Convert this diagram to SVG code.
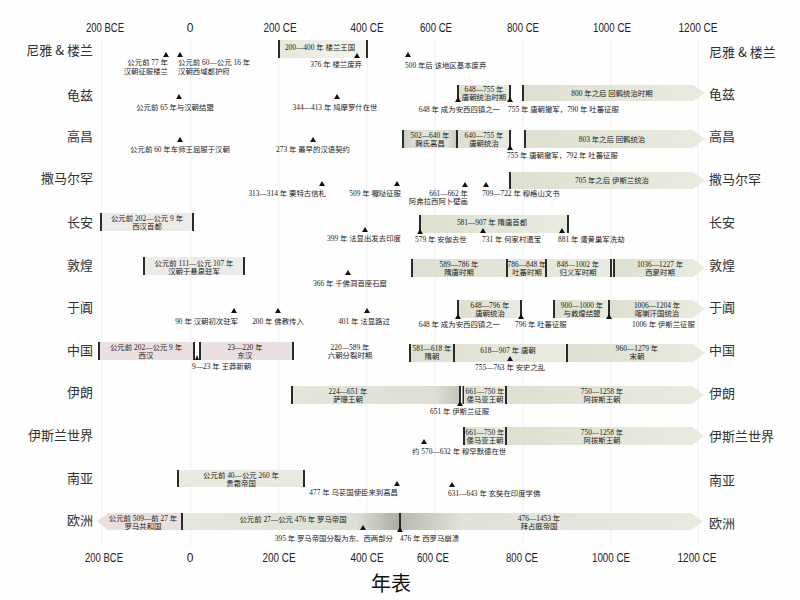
<svg xmlns="http://www.w3.org/2000/svg" width="800" height="600" viewBox="0 0 800 600">
<defs>
<linearGradient id="g" x1="0" x2="1" y1="0" y2="0"><stop offset="0" stop-color="#dde0d0"/><stop offset="1" stop-color="#e9ebdf"/></linearGradient>
<linearGradient id="gl" x1="0" x2="1"><stop offset="0" stop-color="#e6e8dc"/><stop offset="1" stop-color="#f4f5ee"/></linearGradient>
<linearGradient id="gd" x1="0" x2="1"><stop offset="0" stop-color="#c9cbc1"/><stop offset="0.25" stop-color="#e0e2d6"/><stop offset="0.8" stop-color="#e3e5d9"/><stop offset="1" stop-color="#c6c8be"/></linearGradient>
<linearGradient id="gr" x1="0" x2="1"><stop offset="0" stop-color="#e6e8dc"/><stop offset="0.8" stop-color="#dcdfd1"/><stop offset="1" stop-color="#a9ada2"/></linearGradient>
<linearGradient id="gb" x1="0" x2="1"><stop offset="0" stop-color="#b6b9af"/><stop offset="0.2" stop-color="#dfe2d4"/><stop offset="1" stop-color="#e8eadd"/></linearGradient>
<linearGradient id="gi" x1="0" x2="1"><stop offset="0" stop-color="#e4e6da"/><stop offset="0.85" stop-color="#dcdfd1"/><stop offset="1" stop-color="#c3c6bb"/></linearGradient>
<path id="tri" d="M0,-5 L3,0 L-3,0 Z" fill="#111"/>
<style>
.ax{font-family:"Liberation Sans",Arial,sans-serif;font-size:12px;fill:#222;text-anchor:middle}
.row{font-family:"Noto Sans CJK SC",sans-serif;font-size:13px;fill:#333}
.l{text-anchor:end}
.t{font-family:"Liberation Serif","Noto Sans CJK SC",serif;font-size:7.4px;fill:#222}
.m{text-anchor:middle}
.e{text-anchor:end}
.bar{fill:url(#g)}
.pk{fill:#eadfe0}
.nu{fill:#ecebe8}
.edge{stroke:#2a2a2a;stroke-width:2}
.grid{stroke:#efefef;stroke-width:1}
</style>
</defs>
<rect width="800" height="600" fill="#fefefe"/>
<g id="grid" class="grid">
<line x1="102" y1="38" x2="102" y2="543"/><line x1="191" y1="38" x2="191" y2="543"/><line x1="279" y1="38" x2="279" y2="543"/><line x1="367" y1="38" x2="367" y2="543"/><line x1="435" y1="38" x2="435" y2="543"/><line x1="523" y1="38" x2="523" y2="543"/><line x1="611" y1="38" x2="611" y2="543"/><line x1="698" y1="38" x2="698" y2="543"/>
</g>
<g id="axis-top">
<text class="ax" x="105" y="32" textLength="38" lengthAdjust="spacingAndGlyphs">200 BCE</text>
<text class="ax" x="190" y="32">0</text>
<text class="ax" x="280" y="32" textLength="33" lengthAdjust="spacingAndGlyphs">200 CE</text>
<text class="ax" x="367" y="32" textLength="33" lengthAdjust="spacingAndGlyphs">400 CE</text>
<text class="ax" x="436" y="32" textLength="32" lengthAdjust="spacingAndGlyphs">600 CE</text>
<text class="ax" x="523" y="32" textLength="32" lengthAdjust="spacingAndGlyphs">800 CE</text>
<text class="ax" x="612" y="32" textLength="38" lengthAdjust="spacingAndGlyphs">1000 CE</text>
<text class="ax" x="698" y="32" textLength="39" lengthAdjust="spacingAndGlyphs">1200 CE</text>
</g>
<g id="axis-bottom">
<text class="ax" x="104" y="562" textLength="38" lengthAdjust="spacingAndGlyphs">200 BCE</text>
<text class="ax" x="190" y="562">0</text>
<text class="ax" x="279" y="562" textLength="33" lengthAdjust="spacingAndGlyphs">200 CE</text>
<text class="ax" x="367" y="562" textLength="33" lengthAdjust="spacingAndGlyphs">400 CE</text>
<text class="ax" x="433" y="562" textLength="32" lengthAdjust="spacingAndGlyphs">600 CE</text>
<text class="ax" x="522" y="562" textLength="32" lengthAdjust="spacingAndGlyphs">800 CE</text>
<text class="ax" x="611" y="562" textLength="38" lengthAdjust="spacingAndGlyphs">1000 CE</text>
<text class="ax" x="697" y="562" textLength="39" lengthAdjust="spacingAndGlyphs">1200 CE</text>
</g>
<g id="labels-left" class="row l">
<text class="row l" x="93" y="55">尼雅 &amp; 楼兰</text>
<text class="row l" x="93" y="100">龟兹</text>
<text class="row l" x="93" y="141">高昌</text>
<text class="row l" x="93" y="183">撒马尔罕</text>
<text class="row l" x="93" y="227">长安</text>
<text class="row l" x="93" y="270">敦煌</text>
<text class="row l" x="93" y="312">于阗</text>
<text class="row l" x="93" y="355">中国</text>
<text class="row l" x="93" y="397">伊朗</text>
<text class="row l" x="93" y="440">伊斯兰世界</text>
<text class="row l" x="93" y="483">南亚</text>
<text class="row l" x="93" y="525">欧洲</text>
</g>
<g id="labels-right">
<text class="row" x="709" y="57">尼雅 &amp; 楼兰</text>
<text class="row" x="709" y="99">龟兹</text>
<text class="row" x="709" y="141">高昌</text>
<text class="row" x="709" y="184">撒马尔罕</text>
<text class="row" x="709" y="227">长安</text>
<text class="row" x="709" y="270">敦煌</text>
<text class="row" x="709" y="312">于阗</text>
<text class="row" x="709" y="355">中国</text>
<text class="row" x="709" y="398">伊朗</text>
<text class="row" x="709" y="441">伊斯兰世界</text>
<text class="row" x="709" y="485">南亚</text>
<text class="row" x="709" y="528">欧洲</text>
</g>

<g id="niya">
<rect x="279" y="40" width="88" height="18" fill="url(#gl)"/>
<line class="edge" x1="279" y1="40" x2="279" y2="58"/><line class="edge" x1="367" y1="40" x2="367" y2="58"/>
<text class="t m" x="320" y="50">200—400 年 楼兰王国</text>
<use href="#tri" x="357" y="58"/>
<text class="t e" x="362" y="67">376 年 楼兰废弃</text>
<use href="#tri" x="166" y="57"/><use href="#tri" x="180" y="57"/>
<text class="t e" x="168" y="64.5">公元前 77 年</text>
<text class="t e" x="168" y="73.5">汉朝征服楼兰</text>
<text class="t" x="178" y="64.5">公元前 60—公元 16 年</text>
<text class="t" x="178" y="73.5">汉朝西域都护府</text>
<use href="#tri" x="408" y="57"/>
<text class="t" x="405" y="68">500 年后 该地区基本废弃</text>
</g>

<g id="qiuci">
<use href="#tri" x="179" y="99"/>
<text class="t m" x="175" y="109.5">公元前 65 年与汉朝结盟</text>
<use href="#tri" x="337" y="99"/>
<text class="t m" x="335" y="109.5">344—413 年 鸠摩罗什在世</text>
<rect class="bar" x="458" y="85" width="52" height="16"/>
<line class="edge" x1="458" y1="85" x2="458" y2="101"/><line class="edge" x1="510" y1="85" x2="510" y2="101"/>
<use href="#tri" x="458" y="102"/><use href="#tri" x="510" y="102"/>
<text class="t m" x="484" y="92">648—755 年</text>
<text class="t m" x="484" y="100">唐朝统治时期</text>
<text class="t e" x="500" y="112">648 年 成为安西四镇之一</text>
<text class="t" x="508" y="112">755 年 唐朝撤军，790 年 吐蕃征服</text>
<polygon class="bar" points="523,85 693,85 705,93 693,101 523,101"/>
<line class="edge" x1="523" y1="85" x2="523" y2="101"/>
<text class="t m" x="612" y="96">800 年之后 回鹘统治时期</text>
</g>

<g id="gaochang">
<use href="#tri" x="180" y="142"/>
<text class="t m" x="180" y="151.5">公元前 60 年车师王屈服于汉朝</text>
<use href="#tri" x="313" y="142"/>
<text class="t m" x="313" y="151.5">273 年 最早的汉语契约</text>
<rect x="403" y="130" width="54" height="18" fill="url(#gd)"/>
<rect class="bar" x="457" y="130" width="53" height="18"/>
<line class="edge" x1="403" y1="130" x2="403" y2="148"/><line class="edge" x1="457" y1="130" x2="457" y2="148"/><line class="edge" x1="510" y1="130" x2="510" y2="148"/>
<use href="#tri" x="510" y="150"/>
<text class="t m" x="430" y="137.5">502—640 年</text>
<text class="t m" x="430" y="145.5">麴氏高昌</text>
<text class="t m" x="484" y="137.5">640—755 年</text>
<text class="t m" x="484" y="145.5">唐朝统治</text>
<polygon class="bar" points="525,130 693,130 705,139 693,148 525,148"/>
<line class="edge" x1="525" y1="130" x2="525" y2="148"/>
<text class="t m" x="612" y="141.5">803 年之后 回鹘统治</text>
<text class="t" x="507" y="158">755 年 唐朝撤军，792 年 吐蕃征服</text>
</g>

<g id="samarkand">
<use href="#tri" x="322" y="186"/>
<text class="t e" x="326" y="195.5">313—314 年 粟特古信札</text>
<use href="#tri" x="397" y="186"/>
<text class="t e" x="401" y="195.5">509 年 嚈哒征服</text>
<use href="#tri" x="465" y="187"/><use href="#tri" x="486" y="187"/>
<text class="t e" x="468" y="195.5">661—662 年</text>
<text class="t e" x="468" y="203.5">阿弗拉西阿卜壁画</text>
<text class="t" x="482" y="195.5">709—722 年 穆格山文书</text>
<polygon class="bar" points="510,172 693,172 705,180.5 693,189 510,189"/>
<line class="edge" x1="510" y1="172" x2="510" y2="189"/>
<text class="t m" x="612" y="183">705 年之后 伊斯兰统治</text>
</g>

<g id="changan">
<rect class="nu" x="101" y="213" width="92" height="18"/>
<line class="edge" x1="101" y1="213" x2="101" y2="231"/><line class="edge" x1="193" y1="213" x2="193" y2="231"/>
<text class="t m" x="147" y="220.5">公元前 202—公元 9 年</text>
<text class="t m" x="147" y="229">西汉首都</text>
<use href="#tri" x="365" y="232"/>
<text class="t" x="327" y="241">399 年 法显出发去印度</text>
<rect class="bar" x="420" y="215" width="148" height="18"/>
<line class="edge" x1="420" y1="215" x2="420" y2="233"/><line class="edge" x1="568" y1="215" x2="568" y2="233"/>
<use href="#tri" x="420" y="234"/>
<text class="t m" x="492" y="224.5">581—907 年 隋唐首都</text>
<use href="#tri" x="483" y="233"/><use href="#tri" x="562" y="233"/>
<text class="t" x="415" y="241.5">579 年 安伽去世</text>
<text class="t" x="482" y="241.5">731 年 何家村遗宝</text>
<text class="t" x="558" y="241.5">881 年 遭黄巢军洗劫</text>
</g>

<g id="dunhuang">
<rect class="nu" x="144" y="257" width="100" height="18"/>
<line class="edge" x1="144" y1="257" x2="144" y2="275"/><line class="edge" x1="244" y1="257" x2="244" y2="275"/>
<text class="t m" x="194" y="265.5">公元前 111—公元 107 年</text>
<text class="t m" x="194" y="273.5">汉朝于悬泉驻军</text>
<use href="#tri" x="348" y="275"/>
<text class="t m" x="350" y="285.5">366 年 千佛洞首座石窟</text>
<rect class="bar" x="412" y="259" width="199" height="18"/>
<polygon class="bar" points="614,259 693,259 705,268 693,277 614,277"/>
<line class="edge" x1="412" y1="259" x2="412" y2="277"/><line class="edge" x1="507" y1="259" x2="507" y2="277"/><line class="edge" x1="546" y1="259" x2="546" y2="277"/><line class="edge" x1="611" y1="259" x2="611" y2="277"/><line class="edge" x1="614" y1="259" x2="614" y2="277"/>
<text class="t m" x="459" y="266.5">589—786 年</text><text class="t m" x="459" y="274.5">隋唐时期</text>
<text class="t m" x="527" y="266.5">786—848 年</text><text class="t m" x="527" y="274.5">吐蕃时期</text>
<text class="t m" x="578" y="266.5">848—1002 年</text><text class="t m" x="578" y="274.5">归义军时期</text>
<text class="t m" x="660" y="266.5">1036—1227 年</text><text class="t m" x="660" y="274.5">西夏时期</text>
</g>

<g id="khotan">
<use href="#tri" x="234" y="313"/>
<text class="t e" x="238" y="323.5">90 年 汉朝初次驻军</text>
<use href="#tri" x="278" y="313"/>
<text class="t m" x="278" y="323.5">200 年 佛教传入</text>
<use href="#tri" x="367" y="313"/>
<text class="t m" x="364" y="323.5">401 年 法显路过</text>
<rect class="bar" x="458" y="300" width="63" height="18"/>
<line class="edge" x1="458" y1="300" x2="458" y2="318"/><line class="edge" x1="521" y1="300" x2="521" y2="318"/>
<use href="#tri" x="458" y="319"/><use href="#tri" x="521" y="319"/>
<text class="t m" x="490" y="307.5">648—796 年</text><text class="t m" x="490" y="315.5">唐朝统治</text>
<text class="t e" x="500" y="326.5">648 年 成为安西四镇之一</text>
<text class="t" x="515" y="326.5">796 年 吐蕃征服</text>
<rect class="bar" x="554" y="300" width="55" height="18"/>
<line class="edge" x1="554" y1="300" x2="554" y2="318"/>
<polygon class="bar" points="609,300 693,300 705,309 693,318 609,318"/>
<line class="edge" x1="609" y1="300" x2="609" y2="318"/>
<use href="#tri" x="609" y="319"/>
<text class="t m" x="582" y="307.5">900—1000 年</text><text class="t m" x="582" y="315.5">与敦煌结盟</text>
<text class="t m" x="657" y="307.5">1006—1204 年</text><text class="t m" x="657" y="315.5">喀喇汗国统治</text>
<text class="t" x="632" y="326.5">1006 年 伊斯兰征服</text>
</g>

<g id="china">
<rect class="pk" x="99" y="342" width="95" height="18"/>
<rect class="pk" x="200" y="342" width="93" height="18"/>
<line class="edge" x1="99" y1="342" x2="99" y2="360"/><line class="edge" x1="194" y1="342" x2="194" y2="360"/><line class="edge" x1="200" y1="342" x2="200" y2="360"/><line class="edge" x1="293" y1="342" x2="293" y2="360"/>
<path d="M197,355 L199,360 L195,360 Z" fill="#111"/>
<text class="t m" x="146" y="349.5">公元前 202—公元 9 年</text><text class="t m" x="146" y="357.5">西汉</text>
<text class="t m" x="245" y="349.5">23—220 年</text><text class="t m" x="245" y="357.5">东汉</text>
<text class="t" x="192" y="368.5">9—23 年 王莽新朝</text>
<text class="t m" x="350" y="349.5">220—589 年</text><text class="t m" x="350" y="357.5">六朝分裂时期</text>
<rect class="bar" x="410" y="344" width="157" height="18"/>
<polygon class="bar" points="567,344 693,344 705,353 693,362 567,362"/>
<line class="edge" x1="410" y1="344" x2="410" y2="362"/><line class="edge" x1="454" y1="344" x2="454" y2="362"/><line class="edge" x1="567" y1="344" x2="567" y2="362"/>
<text class="t m" x="432" y="351">581—618 年</text><text class="t m" x="432" y="359">隋朝</text>
<text class="t m" x="508" y="352.5">618—907 年 唐朝</text>
<use href="#tri" x="510" y="361"/>
<text class="t" x="475" y="369.5">755—763 年 安史之乱</text>
<text class="t m" x="637" y="351">960—1279 年</text><text class="t m" x="637" y="359">宋朝</text>
</g>

<g id="iran">
<rect x="292" y="386" width="168" height="18" fill="url(#gi)"/>
<line class="edge" x1="292" y1="386" x2="292" y2="404"/><line class="edge" x1="460" y1="386" x2="460" y2="404"/><line class="edge" x1="463.5" y1="386" x2="463.5" y2="404"/>
<use href="#tri" x="460" y="406"/>
<text class="t m" x="348" y="393.5">224—651 年</text><text class="t m" x="348" y="401.5">萨珊王朝</text>
<text class="t" x="430" y="413.5">651 年 伊斯兰征服</text>
<rect class="bar" x="464" y="386" width="42" height="18"/>
<polygon class="bar" points="506,386 692,386 704,395 692,404 506,404"/>
<line class="edge" x1="506" y1="386" x2="506" y2="404"/>
<text class="t m" x="485" y="393.5">661—750 年</text><text class="t m" x="485" y="401.5">倭马亚王朝</text>
<text class="t m" x="602" y="393.5">750—1258 年</text><text class="t m" x="602" y="401.5">阿拔斯王朝</text>
</g>

<g id="islam">
<rect class="bar" x="464" y="427" width="42" height="18"/>
<polygon class="bar" points="506,427 692,427 704,436 692,445 506,445"/>
<line class="edge" x1="464" y1="427" x2="464" y2="445"/><line class="edge" x1="506" y1="427" x2="506" y2="445"/>
<text class="t m" x="485" y="434.5">661—750 年</text><text class="t m" x="485" y="442.5">倭马亚王朝</text>
<text class="t m" x="602" y="434.5">750—1258 年</text><text class="t m" x="602" y="442.5">阿拔斯王朝</text>
<use href="#tri" x="424" y="444"/>
<text class="t" x="412" y="453.5">约 570—632 年 穆罕默德在世</text>
</g>

<g id="southasia">
<rect fill="#e8e9e0" x="178" y="470" width="126" height="17"/>
<line class="edge" x1="178" y1="470" x2="178" y2="487"/><line class="edge" x1="304" y1="470" x2="304" y2="487"/>
<text class="t m" x="241" y="477.5">公元前 40—公元 260 年</text><text class="t m" x="241" y="485.5">贵霜帝国</text>
<use href="#tri" x="397" y="486"/>
<text class="t e" x="398" y="494.5">477 年 乌苌国使臣来到高昌</text>
<use href="#tri" x="452" y="487"/>
<text class="t" x="448" y="495.5">631—643 年 玄奘在印度学佛</text>
</g>

<g id="europe">
<polygon class="pk" points="97,521.5 108,513 182,513 182,530 108,530"/>
<text class="t m" x="143" y="520.5">公元前 509—前 27 年</text><text class="t m" x="143" y="528.5">罗马共和国</text>
<rect x="182" y="513" width="218" height="17" fill="url(#gr)"/>
<line class="edge" x1="182" y1="513" x2="182" y2="530"/>
<text class="t m" x="293" y="521.5">公元前 27—公元 476 年 罗马帝国</text>
<use href="#tri" x="363" y="530"/>
<text class="t e" x="393" y="540.5">395 年 罗马帝国分裂为东、西两部分</text>
<polygon points="400,513 691,513 703,521.5 691,530 400,530" fill="url(#gb)"/>
<line class="edge" x1="400" y1="513" x2="400" y2="530"/>
<use href="#tri" x="400" y="532"/>
<text class="t" x="400" y="540.5">476 年 西罗马崩溃</text>
<text class="t m" x="539" y="520.5">476—1453 年</text><text class="t m" x="539" y="528.5">拜占庭帝国</text>
</g>

<text id="title" x="391" y="591" text-anchor="middle" font-family="Noto Sans CJK SC, sans-serif" font-size="20" fill="#111">年表</text>
</svg>
